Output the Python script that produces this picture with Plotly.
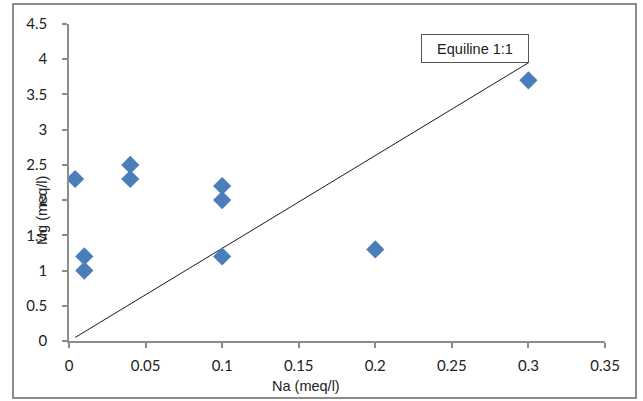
import plotly.graph_objects as go

na = [0.004, 0.01, 0.01, 0.04, 0.04, 0.1, 0.1, 0.1, 0.2, 0.3]
mg = [2.3, 1.2, 1.0, 2.5, 2.3, 2.2, 2.0, 1.2, 1.3, 3.7]
eq_x = [0.004, 0.3]
eq_y = [0.05, 3.95]
x_ticks = [0, 0.05, 0.1, 0.15, 0.2, 0.25, 0.3, 0.35]
x_labels = ["0", "0.05", "0.1", "0.15", "0.2", "0.25", "0.3", "0.35"]
y_ticks = [0, 0.5, 1, 1.5, 2, 2.5, 3, 3.5, 4, 4.5]
y_labels = ["0", "0.5", "1", "1.5", "2", "2.5", "3", "3.5", "4", "4.5"]

fig = go.Figure()
fig.add_trace(go.Scatter(x=eq_x, y=eq_y, mode="lines",
                         line=dict(color="#1a1a1a", width=1), hoverinfo="skip"))
fig.add_trace(go.Scatter(x=na, y=mg, mode="markers",
                         marker=dict(symbol="diamond", size=14, color="#4a7ebb",
                                     line=dict(width=0))))

axis_common = dict(showgrid=False, zeroline=False, showline=True, linecolor="#8c8c8c",
                   linewidth=1.5, ticks="outside", ticklen=5, tickcolor="#8c8c8c",
                   tickwidth=1.5, tickfont=dict(family="Lato", size=15, color="#222"))

fig.update_layout(
    width=643, height=401,
    margin=dict(l=69, r=38, t=24, b=60),
    paper_bgcolor="white", plot_bgcolor="white",
    showlegend=False,
    xaxis=dict(range=[0, 0.35], tickvals=x_ticks, ticktext=x_labels,
               ticklabelstandoff=5, **axis_common),
    yaxis=dict(range=[0, 4.5], tickvals=y_ticks, ticktext=y_labels,
               ticklabelstandoff=12, **axis_common),
    annotations=[
        dict(text="Mg (meq/l)", xref="paper", yref="paper",
             x=(42 - 69) / 536, y=(341 - 211) / 317, showarrow=False, textangle=-90,
             font=dict(family="Liberation Sans", size=14.5, color="#222"),
             xanchor="center", yanchor="middle"),
        dict(text="Na (meq/l)", xref="paper", yref="paper",
             x=(306 - 69) / 536, y=(341 - 386) / 317, showarrow=False,
             font=dict(family="Liberation Sans", size=14.5, color="#222"),
             xanchor="center", yanchor="middle"),
        dict(text="Equiline 1:1", xref="paper", yref="paper",
             x=(421 - 69) / 536, y=(341 - 34) / 317, showarrow=False,
             xanchor="left", yanchor="top", width=102, height=23,
             bordercolor="#555", borderwidth=1, bgcolor="white", borderpad=2,
             font=dict(family="Liberation Sans", size=14.5, color="#222")),
    ],
    shapes=[
        dict(type="rect", xref="paper", yref="paper",
             x0=(13 - 69) / 536, x1=(636 - 69) / 536,
             y0=(341 - 398) / 317, y1=(341 - 4) / 317,
             line=dict(color="#8c8c8c", width=2), fillcolor="rgba(0,0,0,0)"),
    ],
)

fig.write_html("out.html")
